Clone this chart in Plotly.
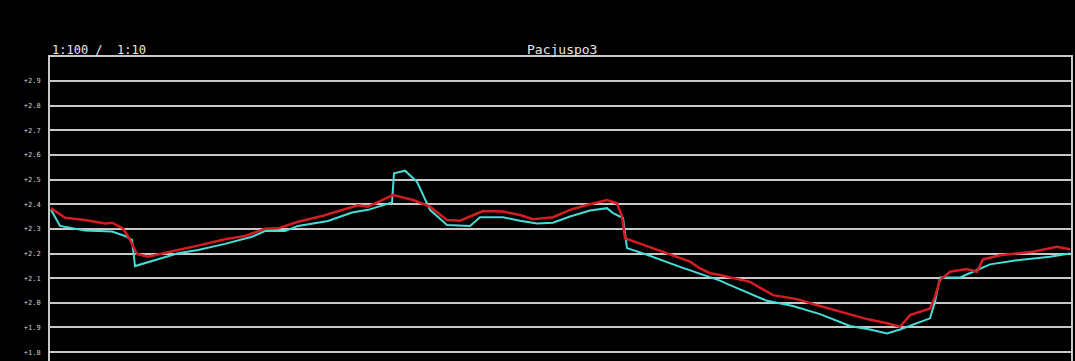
import plotly.graph_objects as go

# Profile positions (chainage units along the section) and levels
red_x = [1, 15, 35, 55, 62, 73, 80, 87, 98, 108, 128, 148, 175, 195, 215, 228, 248, 272, 295, 308, 318, 335,
         343, 363, 380, 397, 410, 420, 433, 453, 470, 483, 503, 520, 537, 557, 567, 572, 575, 597, 617, 640,
         650, 660, 670, 677, 700, 723, 747, 763, 790, 817, 837, 850, 860, 880, 885, 890, 900, 917, 927, 933,
         950, 983, 1007, 1020]
red_y = [2.384, 2.345, 2.336, 2.322, 2.325, 2.302, 2.255, 2.198, 2.187, 2.197, 2.214, 2.232, 2.258, 2.271,
         2.300, 2.302, 2.329, 2.352, 2.379, 2.396, 2.390, 2.420,
         2.437, 2.417, 2.390, 2.336, 2.333, 2.350, 2.372, 2.370, 2.356, 2.339, 2.347, 2.377, 2.397, 2.417,
         2.404, 2.350, 2.262, 2.230, 2.201, 2.167,
         2.140, 2.120, 2.113, 2.106, 2.085, 2.031, 2.015, 1.995, 1.964, 1.934, 1.917, 1.903, 1.950, 1.977,
         2.025, 2.092, 2.126, 2.137, 2.126, 2.176, 2.193, 2.207, 2.227, 2.217]

cyan_x = [1, 10, 35, 62, 75, 82, 85, 105, 128, 148, 175, 202, 215, 235, 248, 278, 302, 318, 335,
          342, 344, 355, 367, 380, 397, 420, 430, 453, 470, 487, 503, 520, 540, 557, 563, 573, 577, 597, 630,
          650, 670, 680, 717, 743, 770, 800, 820, 837, 850, 880, 885, 890, 910, 927, 940, 967, 1000, 1020]
cyan_y = [2.377, 2.312, 2.293, 2.289, 2.271, 2.255, 2.149, 2.174, 2.201, 2.214, 2.239, 2.268, 2.291, 2.291,
          2.312, 2.332, 2.366, 2.377, 2.400,
          2.407, 2.525, 2.536, 2.491, 2.377, 2.316, 2.312, 2.347, 2.347, 2.333, 2.322, 2.325, 2.350, 2.374,
          2.384, 2.364, 2.344, 2.222, 2.195, 2.146,
          2.117, 2.090, 2.072, 2.008, 1.987, 1.954, 1.906, 1.892, 1.876, 1.892, 1.937, 2.004, 2.103, 2.103,
          2.133, 2.156, 2.173, 2.187, 2.200]

tick_vals = [2.9, 2.8, 2.7, 2.6, 2.5, 2.4, 2.3, 2.2, 2.1, 2.0, 1.9, 1.8]
tick_text = ["+2.9", "+2.8", "+2.7", "+2.6", "+2.5", "+2.4", "+2.3", "+2.2", "+2.1", "+2.0", "+1.9", "+1.8"]

fig = go.Figure()
fig.add_trace(go.Scatter(x=cyan_x, y=cyan_y, mode="lines",
                         line=dict(color="#46dcd8", width=2), hoverinfo="skip"))
fig.add_trace(go.Scatter(x=red_x, y=red_y, mode="lines",
                         line=dict(color="#d41c22", width=2.5), hoverinfo="skip"))

fig.update_layout(
    width=1075, height=361,
    margin=dict(l=50, r=4, t=57, b=0),
    paper_bgcolor="black", plot_bgcolor="black",
    showlegend=False,
    xaxis=dict(range=[0, 1021], showgrid=False, zeroline=False, showticklabels=False,
               showline=True, linecolor="#c8c8c8", linewidth=2, mirror=True, ticks=""),
    yaxis=dict(range=[1.764, 2.997], tickvals=tick_vals, ticktext=tick_text,
               showgrid=True, gridcolor="#c8c8c8", gridwidth=1.5, zeroline=False,
               showline=True, linecolor="#c8c8c8", linewidth=2, mirror=True, ticks="",
               ticklabelstandoff=6,
               tickfont=dict(family="DejaVu Sans Mono", size=7, color="#d0d0d0")),
    annotations=[
        dict(text="1:100 /  1:10", xref="paper", yref="paper", x=0, y=1, yshift=-2,
             xanchor="left", yanchor="bottom", showarrow=False,
             font=dict(family="DejaVu Sans Mono", size=12, color="#e8e8e8")),
        dict(text="Pacjuspo3", xref="paper", yref="paper", x=0.501, y=1, yshift=-2,
             xanchor="center", yanchor="bottom", showarrow=False,
             font=dict(family="DejaVu Sans Mono", size=13, color="#e8e8e8")),
    ],
)

fig.write_html("out.html")
